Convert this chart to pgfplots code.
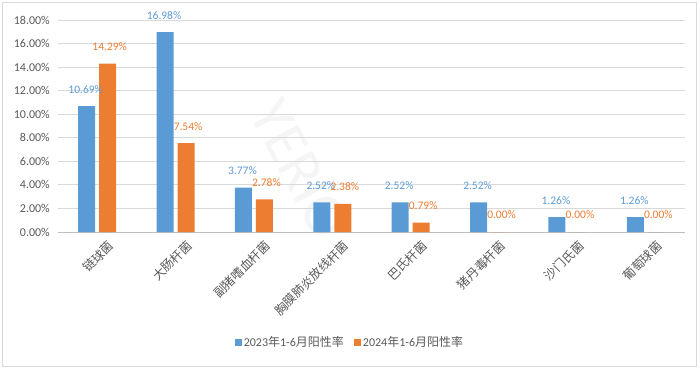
\documentclass[border=0pt]{standalone}
\usepackage{fontspec}
\setmainfont{Carlito}
\newfontfamily\cjk{Noto Sans CJK SC}
\usepackage{pgfplots}
\pgfplotsset{compat=1.18}
\definecolor{cblue}{HTML}{5B9BD5}
\definecolor{corange}{HTML}{ED7D31}
\definecolor{tgray}{HTML}{595959}
\definecolor{ggray}{HTML}{D9D9D9}
\definecolor{agray}{HTML}{BFBFBF}
\begin{document}
\begin{tikzpicture}[x=1pt,y=1pt]
\path (0,0) rectangle (700,369);
\draw[color=ggray] (2.5,2.5) rectangle (696,366.5);
\node[rotate=-62, text=black!4, font=\fontsize{60}{60}\selectfont] at (300,200) {YERIO};
\begin{axis}[
  at={(58pt,137pt)}, anchor=south west,
  width=627pt, height=212pt, scale only axis,
  ymin=0, ymax=18, xmin=-0.5, xmax=7.5,
  ybar=4pt, bar width=17pt,
  axis y line*=left, axis x line*=bottom,
  y axis line style={draw=none},
  x axis line style={color=agray, line width=0.8pt},
  ytick={0,2,...,18},
  yticklabel={\pgfmathprintnumber[fixed,fixed zerofill,precision=2,assume math mode=true]{\tick}\%},
  ymajorgrids, grid style={color=ggray, line width=0.8pt},
  major tick length=0pt,
  tick style={draw=none},
  yticklabel style={inner sep=0pt, xshift=-8pt, text=tgray, font=\fontsize{12}{14}\selectfont},
  xtick={0,...,7},
  xticklabels={{\cjk 链球菌},{\cjk 大肠杆菌},{\cjk 副猪嗜血杆菌},{\cjk 胸膜肺炎放线杆菌},{\cjk 巴氏杆菌},{\cjk 猪丹毒杆菌},{\cjk 沙门氏菌},{\cjk 葡萄球菌}},
  xticklabel style={rotate=45, anchor=east, inner sep=0pt, xshift=2pt, yshift=-18pt, text=tgray, font=\fontsize{12.3}{14}\selectfont},
  nodes near coords={\pgfmathprintnumber[fixed,fixed zerofill,precision=2,assume math mode=true]{\pgfplotspointmeta}\%},
  every node near coord/.append style={anchor=base, yshift=13pt, inner sep=0pt, font=\fontsize{11.5}{14}\selectfont},
  legend columns=2,
  legend style={at={(axis description cs:0.4657,-0.519)}, anchor=center, draw=none, fill=none,
    font=\fontsize{12}{14}\selectfont, text=tgray,
    /tikz/every even column/.append style={column sep=8pt}},
  legend image code/.code={\fill[#1] (0pt,-3.5pt) rectangle (7pt,3.5pt);},
]
\addplot[fill=cblue, draw=none, nodes near coords style={text=cblue, xshift=-1pt}] coordinates {
(0,10.69) (1,16.98) (2,3.77) (3,2.52) (4,2.52) (5,2.52) (6,1.26) (7,1.26)};
\addlegendentry{2023{\cjk 年}1-6{\cjk 月阳性率}}
\addplot[fill=corange, draw=none, nodes near coords style={text=corange, xshift=2pt}] coordinates {
(0,14.29) (1,7.54) (2,2.78) (3,2.38) (4,0.79) (5,0) (6,0) (7,0)};
\addlegendentry{2024{\cjk 年}1-6{\cjk 月阳性率}}
\end{axis}
\end{tikzpicture}
\end{document}
